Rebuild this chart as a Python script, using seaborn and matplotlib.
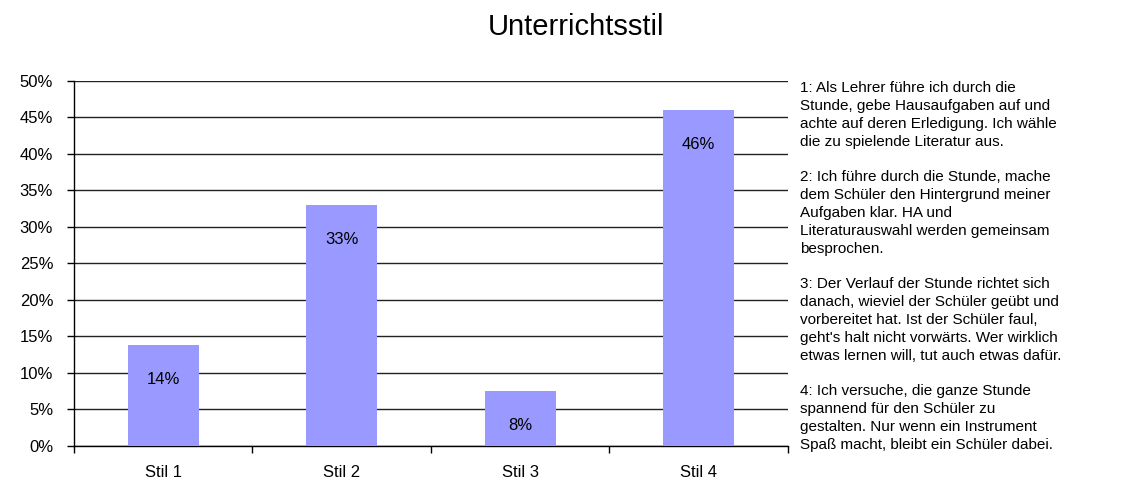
import matplotlib
matplotlib.use("Agg")
import matplotlib.pyplot as plt
import seaborn as sns
import pandas as pd
from matplotlib.ticker import MultipleLocator, FuncFormatter

# Werte (Prozent)
stile = ["Stil 1", "Stil 2", "Stil 3", "Stil 4"]
anteile = [13.8, 33.0, 7.5, 46.0]
beschriftung = ["14%", "33%", "8%", "46%"]

titel = "Unterrichtsstil"
erklaerung = [
    "1: Als Lehrer führe ich durch die\nStunde, gebe Hausaufgaben auf und\nachte auf deren Erledigung. Ich wähle\ndie zu spielende Literatur aus.",
    "2: Ich führe durch die Stunde, mache\ndem Schüler den Hintergrund meiner\nAufgaben klar. HA und\nLiteraturauswahl werden gemeinsam\nbesprochen.",
    "3: Der Verlauf der Stunde richtet sich\ndanach, wieviel der Schüler geübt und\nvorbereitet hat. Ist der Schüler faul,\ngeht's halt nicht vorwärts. Wer wirklich\netwas lernen will, tut auch etwas dafür.",
    "4: Ich versuche, die ganze Stunde\nspannend für den Schüler zu\ngestalten. Nur wenn ein Instrument\nSpaß macht, bleibt ein Schüler dabei.",
]

sns.set_style("white")
plt.rcParams["font.family"] = ["Liberation Sans", "DejaVu Sans"]
plt.rcParams["text.color"] = "black"
plt.rcParams["xtick.color"] = "black"
plt.rcParams["ytick.color"] = "black"

df = pd.DataFrame({"stil": stile, "anteil": anteile})

fig = plt.figure(figsize=(11.37, 4.79), dpi=100)
ax = fig.add_axes([0.0651, 0.0695, 0.6279, 0.762])

sns.barplot(data=df, x="stil", y="anteil", color="#9999FF", saturation=1,
            width=0.4, linewidth=0, ax=ax, zorder=3)

for i, (v, txt) in enumerate(zip(anteile, beschriftung)):
    ax.annotate(txt, (i, v), xytext=(0, -25), textcoords="offset points",
                ha="center", va="center", fontsize=12, color="black", zorder=4)

ax.set_xlim(-0.5, 3.5)
ax.set_ylim(0, 50)
ax.yaxis.set_major_locator(MultipleLocator(5))
ax.yaxis.set_major_formatter(FuncFormatter(lambda y, _: f"{y:.0f}%"))
ax.grid(axis="y", color="#222222", linewidth=1, zorder=0)
ax.set_axisbelow(True)

ax.set_xticks(range(len(stile)))
ax.set_xticklabels(stile)
ax.set_xticks([-0.5, 0.5, 1.5, 2.5, 3.5], minor=True)
ax.tick_params(axis="x", which="major", bottom=False, length=0, pad=14, labelsize=12)
ax.tick_params(axis="x", which="minor", bottom=True, length=5, width=1, direction="out")
ax.tick_params(axis="y", left=True, length=5, width=1, direction="out", pad=10, labelsize=12)

for s in ["top", "right"]:
    ax.spines[s].set_visible(False)
for s in ["left", "bottom"]:
    ax.spines[s].set_color("black")
    ax.spines[s].set_linewidth(1)
ax.set_xlabel("")
ax.set_ylabel("")

fig.text(576 / 1137, 1 - 27 / 479, titel, ha="center", va="center", fontsize=21)

fig.text(800 / 1137, 1 - 81 / 479, "\n\n".join(erklaerung), ha="left", va="top",
         fontsize=11, linespacing=1.35)

fig.savefig("out.png", dpi=100, facecolor="white")
